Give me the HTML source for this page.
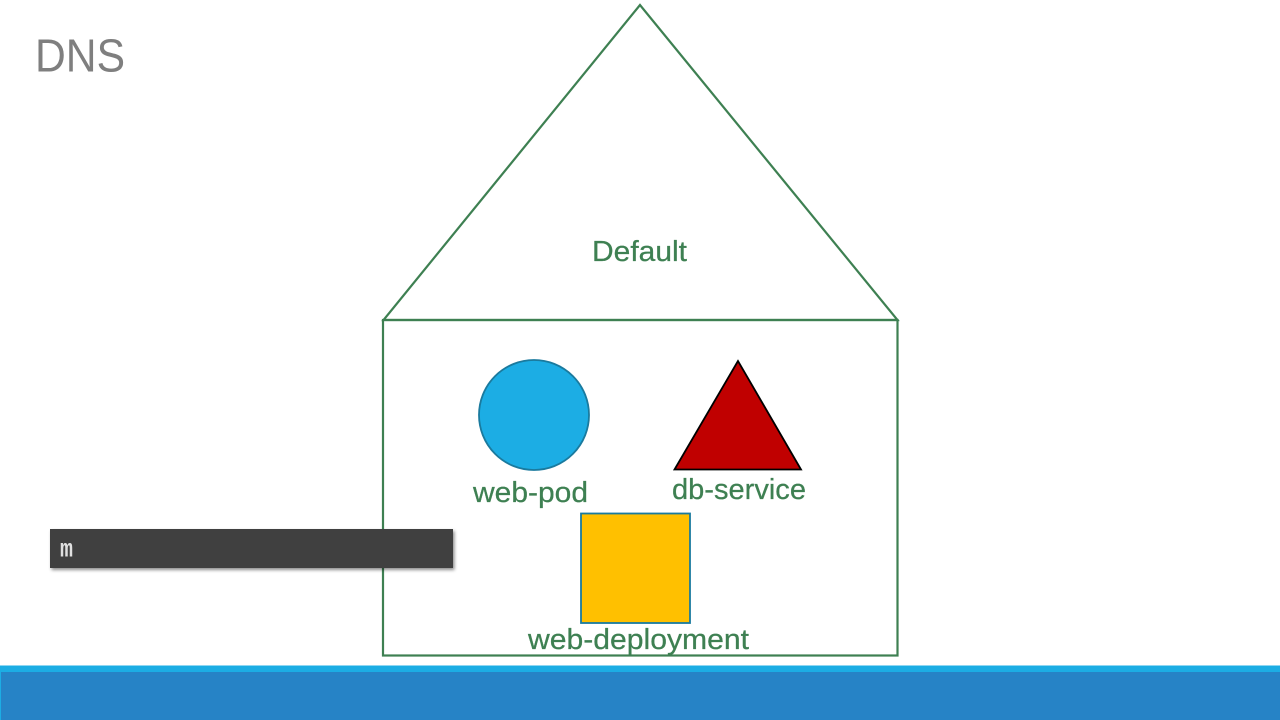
<!DOCTYPE html>
<html><head><meta charset="utf-8"><title>DNS</title>
<style>html,body{margin:0;padding:0;background:#fff}svg{display:block}text{font-family:"Liberation Sans",sans-serif}</style></head>
<body>
<svg width="1280" height="720" viewBox="0 0 1280 720" xmlns="http://www.w3.org/2000/svg">
<defs><filter id="s" x="-5%" y="-30%" width="110%" height="170%"><feDropShadow dx="1.5" dy="2" stdDeviation="1.5" flood-color="#000" flood-opacity="0.45"/></filter></defs>
<rect width="1280" height="720" fill="#fff"/>
<text x="35" y="71.500" font-size="46" fill="#7f7f7f" textLength="90" lengthAdjust="spacingAndGlyphs">DNS</text>
<g fill="none" stroke="#3e8052" stroke-width="2.200">
<polygon points="640,5 383.500,320 897.500,320"/>
<rect x="383" y="320" width="514.500" height="335.500"/>
</g>
<g font-size="29" fill="#3e8052" stroke="#3e8052" stroke-width="0.250" lengthAdjust="spacingAndGlyphs">
<text x="592" y="261" textLength="95" lengthAdjust="spacingAndGlyphs">Default</text>
<text x="473" y="502" textLength="115" lengthAdjust="spacingAndGlyphs">web-pod</text>
<text x="672" y="499" textLength="134" lengthAdjust="spacingAndGlyphs">db-service</text>
<text x="528" y="649" textLength="221" lengthAdjust="spacingAndGlyphs">web-deployment</text>
</g>
<circle cx="534" cy="415" r="55" fill="#1cade4" stroke="#1a7a9e" stroke-width="1.800"/>
<polygon points="738,361 674.500,469.500 801,469.500" fill="#c00000" stroke="#000" stroke-width="1.800"/>
<rect x="581" y="513.500" width="109" height="109.500" fill="#ffc000" stroke="#1a7a9e" stroke-width="1.800"/>
<rect x="50" y="529" width="403" height="39" fill="#404040" filter="url(#s)"/>
<text x="60" y="556.500" font-size="25" font-weight="bold" fill="#e0e0e0" font-family="Liberation Mono" style="font-family:'Liberation Mono',monospace" textLength="13" lengthAdjust="spacingAndGlyphs">m</text>
<rect x="0" y="665.500" width="1280" height="6.500" fill="#1cade4"/>
<rect x="0" y="672" width="1280" height="48" fill="#2683c6"/>
<rect x="0" y="672" width="1" height="48" fill="#1cade4"/>
</svg>
</body></html>
